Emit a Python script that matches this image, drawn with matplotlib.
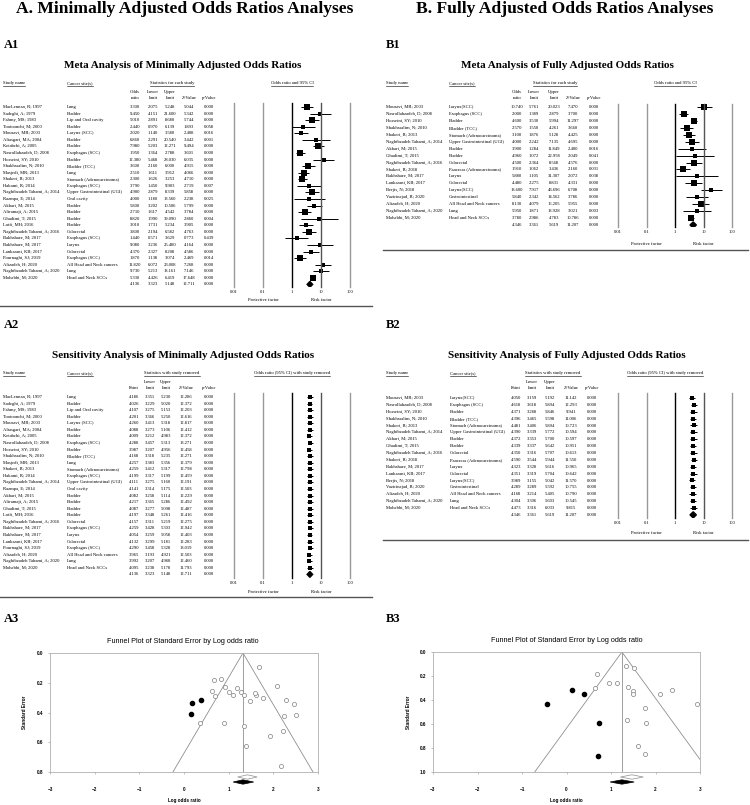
import numpy as np
import matplotlib
matplotlib.use('Agg')
import matplotlib.pyplot as plt
import matplotlib.transforms as mtransforms
from matplotlib.patches import Polygon
from matplotlib.lines import Line2D

W, H = 750, 805
SERIF = ['Liberation Serif', 'DejaVu Serif']
SANS = ['Liberation Sans', 'DejaVu Sans']

# ---------------- A1: minimally adjusted odds ratios ----------------
a_names = ["MacLennan, R; 1997", "Sadeghi, A; 1979", "Fahmy, MS; 1983", "Tootoonchi, M; 2000",
           "Mousavi, MR; 2003", "Aliasgari, MA; 2004", "Ketabchi, A; 2005", "Nasrollahzadeh, D; 2008",
           "Hosseini, SY; 2010", "Shakhssalim, N; 2010", "Masjedi, MR; 2013", "Shakeri, R; 2013",
           "Hakami, R; 2014", "Naghibzadeh Tahami, A; 2014", "Razmpa, E; 2014", "Akbari, M; 2015",
           "Aliramaji, A; 2015", "Ghadimi, T; 2015", "Lotfi, MH; 2016", "Naghibzadeh Tahami, A; 2016",
           "Bakhshaee, M; 2017", "Bakhshaee, M; 2017", "Lankarani, KB; 2017", "Pournaghi, SJ; 2019",
           "Alizadeh, H; 2020", "Naghibzadeh Tahami, A; 2020", "Mohebbi, M; 2020"]
a_sites = ["Lung", "Bladder", "Lip and Oral cavity", "Bladder", "Larynx (SCC)", "Bladder", "Bladder",
           "Esophagus (SCC)", "Bladder", "Bladder (TCC)", "Lung", "Stomach (Adenocarcinoma)",
           "Esophagus (SCC)", "Upper Gastrointestinal (UGI)", "Oral cavity", "Bladder", "Bladder",
           "Bladder", "Bladder", "Colorectal", "Esophagus (SCC)", "Larynx", "Colorectal",
           "Esophagus (SCC)", "All Head and Neck cancers", "Lung", "Head and Neck SCCs"]
a_or = [3.300, 9.450, 5.010, 2.440, 2.020, 6.860, 7.980, 1.950, 12.380, 3.600, 2.510, 2.300, 3.790,
        4.900, 4.000, 5.800, 2.710, 8.820, 3.010, 3.800, 1.440, 9.080, 4.370, 1.870, 11.820, 9.730, 5.330]
a_lo = [2.075, 4.151, 2.891, 0.970, 1.140, 2.291, 5.203, 1.364, 5.468, 2.160, 1.611, 1.626, 1.450,
        2.879, 1.180, 3.202, 1.617, 1.990, 1.731, 2.194, 0.571, 3.236, 2.327, 1.138, 6.072, 5.213, 4.426]
a_hi = [5.248, 21.600, 8.680, 6.139, 3.580, 20.540, 12.271, 2.788, 28.030, 6.000, 3.912, 3.253, 9.903,
        8.339, 13.560, 10.506, 4.542, 39.090, 5.234, 6.582, 3.629, 25.480, 8.208, 3.074, 23.008, 18.161, 6.419]
a_z = [5.044, 5.342, 5.744, 1.893, 2.408, 3.442, 9.494, 3.601, 6.035, 4.915, 4.066, 4.710, 2.719,
       5.858, 2.238, 5.799, 3.784, 2.860, 3.905, 4.763, 0.773, 4.164, 4.586, 2.469, 7.268, 7.146, 17.648]
a_p = [0.000, 0.000, 0.000, 0.058, 0.016, 0.001, 0.000, 0.000, 0.000, 0.000, 0.000, 0.000, 0.007,
       0.000, 0.025, 0.000, 0.000, 0.004, 0.000, 0.000, 0.439, 0.000, 0.000, 0.014, 0.000, 0.000, 0.000]
a_sum = [4.136, 3.323, 5.148, 12.711, 0.000]

# ---------------- A2: sensitivity (one study removed) ----------------
a2_pt = [4.186, 4.026, 4.107, 4.201, 4.260, 4.088, 4.009, 4.288, 3.987, 4.168, 4.257, 4.259, 4.199,
         4.111, 4.141, 4.082, 4.217, 4.087, 4.197, 4.157, 4.259, 4.054, 4.132, 4.290, 3.965, 3.992, 4.095]
a2_lo = [3.351, 3.229, 3.275, 3.366, 3.413, 3.273, 3.212, 3.457, 3.207, 3.318, 3.383, 3.412, 3.317,
         3.275, 3.314, 3.258, 3.365, 3.277, 3.348, 3.311, 3.428, 3.259, 3.299, 3.458, 3.193, 3.207, 3.238]
a2_hi = [5.230, 5.020, 5.153, 5.250, 5.318, 5.106, 4.983, 5.313, 4.956, 5.235, 5.356, 5.317, 5.199,
         5.160, 5.175, 5.114, 5.286, 5.098, 5.261, 5.219, 5.303, 5.058, 5.181, 5.328, 4.921, 4.968, 5.178]
a2_z = [12.286, 12.372, 12.203, 12.616, 12.817, 12.412, 12.372, 13.271, 12.458, 12.271, 12.379, 12.798,
        12.459, 12.191, 12.503, 12.229, 12.492, 12.487, 12.416, 12.275, 12.942, 12.403, 12.283, 13.019,
        12.503, 12.460, 11.793]
a2_p = [0.000] * 27

# ---------------- B1: fully adjusted odds ratios ----------------
b_names = ["Mousavi, MR; 2003", "Nasrollahzadeh, D; 2008", "Hosseini, SY; 2010", "Shakhssalim, N; 2010",
           "Shakeri, R; 2013", "Naghibzadeh Tahami, A; 2014", "Akbari, M; 2015", "Ghadimi, T; 2015",
           "Naghibzadeh Tahami, A; 2016", "Shakeri, R; 2018", "Bakhshaee, M; 2017", "Lankarani, KB; 2017",
           "Berjis, N; 2018", "Vazirinejad, R; 2020", "Alizadeh, H; 2020", "Naghibzadeh Tahami, A; 2020",
           "Mohebbi, M; 2020"]
b_sites = ["Larynx(SCC)", "Esophagus (SCC)", "Bladder", "Bladder (TCC)", "Stomach (Adenocarcinoma)",
           "Upper Gastrointestinal (UGI)", "Bladder", "Bladder", "Colorectal", "Pancreas (Adenocarcinoma)",
           "Larynx", "Colorectal", "Larynx(SCC)", "Gastrointestinal", "All Head and Neck cancers", "Lung",
           "Head and Neck SCCs"]
b_or = [10.740, 2.000, 4.600, 2.570, 3.100, 4.000, 3.900, 4.960, 4.500, 1.910, 5.880, 4.480, 18.600,
        5.840, 8.130, 5.950, 3.780]
b_lo = [5.761, 1.389, 3.530, 1.550, 1.876, 2.242, 1.284, 1.072, 2.364, 1.062, 1.105, 2.275, 7.917,
        2.342, 4.079, 1.871, 2.986]
b_hi = [20.023, 2.879, 5.994, 4.261, 5.128, 7.135, 11.849, 22.958, 8.568, 3.436, 31.307, 8.831, 43.696,
        14.562, 16.205, 18.928, 4.783]
b_z = [7.470, 3.700, 11.297, 3.660, 4.425, 4.695, 2.400, 2.049, 4.576, 2.160, 2.072, 4.331, 6.708,
       3.786, 5.955, 3.021, 10.786]
b_p = [0.000, 0.000, 0.000, 0.000, 0.000, 0.000, 0.016, 0.041, 0.000, 0.031, 0.038, 0.000, 0.000,
       0.000, 0.000, 0.003, 0.000]
b_sum = [4.346, 3.361, 5.619, 11.207, 0.000]

# ---------------- B2: sensitivity (one study removed) ----------------
b2_pt = [4.050, 4.618, 4.371, 4.396, 4.481, 4.390, 4.372, 4.339, 4.350, 4.590, 4.323, 4.351, 3.989,
         4.289, 4.168, 4.304, 4.473]
b2_lo = [3.159, 3.618, 3.268, 3.465, 3.406, 3.339, 3.353, 3.337, 3.316, 3.544, 3.328, 3.319, 3.155,
         3.289, 3.214, 3.306, 3.316]
b2_hi = [5.192, 5.894, 5.846, 5.598, 5.894, 5.772, 5.700, 5.642, 5.707, 5.944, 5.616, 5.704, 5.042,
         5.592, 5.405, 5.603, 6.033]
b2_z = [11.142, 12.293, 9.941, 11.006, 10.723, 10.594, 10.597, 10.951, 10.613, 11.550, 10.965, 10.642,
        11.570, 10.755, 10.790, 10.545, 9.815]
b2_p = [0.000] * 17

# ---------------- funnel plots: imputed (trim and fill) studies ----------------
a_imp_x = [0.19, 0.38, 0.15]
a_imp_se = [0.337, 0.315, 0.411]
a_mid = 1.32
a_adj = [1.32, 1.10, 1.56]
b_imp_x = [0.13, 0.40, -0.435, 0.72, 0.705]
b_imp_se = [0.317, 0.350, 0.433, 0.589, 0.867]
b_mid = 1.245
b_adj = [1.245, 0.98, 1.52]

fig = plt.figure(figsize=(W / 100, H / 100), dpi=100)
# pixel coords measured from top-left
px = mtransforms.Affine2D().scale(1 / W, -1 / H).translate(0, 1) + fig.transFigure


def ptext(x, y, s, **kw):
    kw.setdefault('family', SERIF)
    return fig.text(x, y, s, transform=px, **kw)


def rect(l, t, r, b):
    return [l / W, 1 - b / H, (r - l) / W, (b - t) / H]


underline = []


def forest(sp, names, sites, est, lo, hi, z, p, summ, sens=False, tau2=0.1, big=1.4):
    n = len(est)
    fs = 3.3
    ptext(sp['title_x'], sp['title_y'], sp['title'], fontsize=8, fontweight='bold',
          ha='center', va='center')
    for x, s, ha in [(sp['name_x'], 'Study name', 'left'), (sp['site_x'], 'Cancer site(s)', 'left'),
                     (sp['stat_x'], sp['stat_head'], 'center'), (sp['fh_x'], sp['forest_head'], 'center')]:
        underline.append(ptext(x, sp['head_y'], s, fontsize=fs, ha=ha, va='center'))
    if sens:
        sub1 = ['', 'Lower', 'Upper', '', '']
        sub2 = ['Point', 'limit', 'limit', 'Z-Value', 'p-Value']
    else:
        sub1 = ['Odds', 'Lower', 'Upper', '', '']
        sub2 = ['ratio', 'limit', 'limit', 'Z-Value', 'p-Value']
    for cx, s1, s2 in zip(sp['cols'], sub1, sub2):
        ptext(cx, sp['sub_y1'], s1, fontsize=fs, ha='center', va='center')
        ptext(cx, sp['sub_y2'], s2, fontsize=fs, ha='center', va='center')

    # forest axes: 0.01..100 on a log axis, a small margin so the edge lines are not cut
    dec = (sp['fr'] - sp['fl']) / 4.0
    ax = fig.add_axes(rect(sp['fl'] - 0.1 * dec, sp['ft'], sp['fr'] + 0.1 * dec, sp['fb']))
    ax.set_xscale('log')
    y_bot = (sp['fb'] - sp['row0']) / sp['dy']
    y_top = (sp['ft'] - sp['row0']) / sp['dy']
    ax.set_xlim(10 ** -2.1, 10 ** 2.1)
    ax.set_ylim(y_bot, y_top)
    for s in ax.spines.values():
        s.set_visible(False)
    ax.set_xticks([])
    ax.set_yticks([])
    ax.minorticks_off()
    ticks = [0.01, 0.1, 1, 10, 100]

    tf = mtransforms.blended_transform_factory(px, ax.transData)
    ftf = mtransforms.blended_transform_factory(ax.transData, px)
    for v, s, c in zip(ticks, ['0.01', '0.1', '1', '10', '100'],
                       ['#999999', '#999999', 'black', '#555555', '#999999']):
        fig.text(v, sp['fb'] + 5, s, transform=ftf, fontsize=fs, family=SERIF, ha='center', va='center')
        fig.add_artist(Line2D([v, v], [sp['ft'], sp['fb']], transform=ftf, color=c, lw=1.0))

    rows = np.arange(n)
    for i in rows:
        fig.text(sp['name_x'], i, names[i], transform=tf, fontsize=fs, family=SERIF, va='center')
        fig.text(sp['site_x'], i, sites[i], transform=tf, fontsize=fs, family=SERIF, va='center')
        for cx, v in zip(sp['cols'], [est[i], lo[i], hi[i], z[i], p[i]]):
            fig.text(cx, i, '%.3f' % v, transform=tf, fontsize=fs, family=SERIF, ha='center', va='center')
    for cx, v in zip(sp['cols'], summ):
        fig.text(cx, n, '%.3f' % v, transform=tf, fontsize=fs, family=SERIF, ha='center', va='center')

    est = np.array(est)
    lo = np.array(lo)
    hi = np.array(hi)
    se = (np.log(hi) - np.log(lo)) / 3.92
    w = 1 / (se ** 2 + tau2)
    ms = 2.6 + big * np.sqrt(w / w.max())
    if sens:
        ms = np.full(n, 3.5)
    ax.hlines(rows, np.clip(lo, 0.01, 100), np.clip(hi, 0.01, 100), color='black', lw=0.7, zorder=2)
    for i in rows:
        ax.plot(est[i], i, 's', color='black', ms=ms[i], mew=0, zorder=3)
    d = Polygon([(summ[1], n), (summ[0], n - 0.45), (summ[2], n), (summ[0], n + 0.45)],
                closed=True, color='black', zorder=3)
    ax.add_patch(d)

    fig.text(0.1, sp['factor_y'], 'Protective factor', transform=ftf, fontsize=fs, family=SERIF,
             ha='center', va='center')
    fig.text(10, sp['factor_y'], 'Risk factor', transform=ftf, fontsize=fs, family=SERIF,
             ha='center', va='center')
    fig.add_artist(Line2D([sp['sep_x0'] / W, sp['sep_x1'] / W], [1 - sp['sep_y'] / H] * 2,
                          color='#555555', lw=1.0))


def funnel(l, t, r, b, est, lo, hi, summ, imp_x, imp_se, mid, adj, ymax, title_x):
    ax = fig.add_axes(rect(l, t, r, b))
    lx = np.log(est)
    se = (np.log(hi) - np.log(lo)) / 3.92
    ax.plot([mid - 1.96 * ymax, mid, mid + 1.96 * ymax], [ymax, 0, ymax], color='#8f8f8f', lw=0.6)
    ax.plot([mid, mid], [0, ymax], color='#8f8f8f', lw=0.6)
    ax.plot(lx, se, 'o', mfc='white', mec='#808080', mew=0.5, ms=3.0)
    ax.plot(imp_x, imp_se, 'o', color='black', ms=3.0)
    per_px = ymax / (b - t)
    ls = np.log(summ[:3])
    for (c, x0, x1), yc, fc, ec in [((ls[0], ls[1], ls[2]), ymax + 5 * per_px, 'white', '#8f8f8f'),
                                     ((adj[0], adj[1], adj[2]), ymax + 10 * per_px, 'black', 'black')]:
        hh = 2.2 * per_px
        ax.add_patch(Polygon([(x0, yc), (c, yc - hh), (x1, yc), (c, yc + hh)], closed=True,
                             fc=fc, ec=ec, lw=0.5, clip_on=False))
    ax.set_xlim(-3, 3)
    ax.set_ylim(ymax, 0)
    ax.set_xticks(range(-3, 4))
    ax.set_yticks(np.arange(0, ymax + 0.01, 0.2))
    ax.set_yticklabels(['%.1f' % v for v in np.arange(0, ymax + 0.01, 0.2)])
    ax.tick_params(labelsize=3.3, length=1.5, width=0.4, color='#8f8f8f')
    ax.tick_params(axis='x', pad=9)
    for lab in ax.get_xticklabels() + ax.get_yticklabels():
        lab.set_family(SANS)
        lab.set_fontweight('bold')
    for s in ax.spines.values():
        s.set_color('#b0b0b0')
        s.set_linewidth(0.6)
    ptext(title_x, t - 12, 'Funnel Plot of Standard Error by Log odds ratio', fontsize=5.2,
          family=SANS, ha='center', va='center')
    ptext(l - 25, (t + b) / 2, 'Standard Error', fontsize=3.3, family=SANS, fontweight='bold',
          rotation=90, ha='center', va='center')
    ptext((l + r) / 2, b + 28, 'Log odds ratio', fontsize=3.3, family=SANS, fontweight='bold',
          ha='center', va='center')


# main headings and panel labels
ptext(185, 9, 'A. Minimally Adjusted Odds Ratios Analyses', fontsize=12.6, fontweight='bold',
      ha='center', va='center')
ptext(565, 9, 'B. Fully Adjusted Odds Ratios Analyses', fontsize=12.6, fontweight='bold',
      ha='center', va='center')
for x, y, s in [(4, 45, 'A1'), (386, 45, 'B1'), (4, 325, 'A2'), (386, 325, 'B2'),
                (4, 619, 'A3'), (386, 619, 'B3')]:
    ptext(x, y, s, fontsize=9, fontweight='bold', va='center')

a1 = dict(title='Meta Analysis of Minimally Adjusted Odds Ratios', title_x=183, title_y=65,
          name_x=3, site_x=67, cols=[135, 153, 170, 189, 209], stat_head='Statistics for each study',
          stat_x=172, forest_head='Odds ratio and 95% CI', fh_x=292, head_y=83, sub_y1=92, sub_y2=98,
          fl=234, fr=350, ft=103, fb=287, row0=107, dy=6.57, factor_y=300, sep_y=306, sep_x0=0, sep_x1=372)
b1 = dict(title='Meta Analysis of Fully Adjusted Odds Ratios', title_x=567, title_y=65,
          name_x=386, site_x=449, cols=[517, 534, 554, 573, 594], stat_head='Statistics for each study',
          stat_x=555, forest_head='Odds ratio and 95% CI', fh_x=675, head_y=83, sub_y1=92, sub_y2=98,
          fl=618, fr=732, ft=104, fb=227, row0=107, dy=6.94, factor_y=244, sep_y=250, sep_x0=383, sep_x1=748)
a2 = dict(title='Sensitivity Analysis of Minimally Adjusted Odds Ratios', title_x=183, title_y=355,
          name_x=3, site_x=67, cols=[134, 150, 166, 186, 209], stat_head='Statistics with study removed',
          stat_x=172, forest_head='Odds ratio (95% CI) with study removed', fh_x=292, head_y=373,
          sub_y1=382, sub_y2=388, fl=234, fr=350, ft=393, fb=578, row0=397, dy=6.57, factor_y=592,
          sep_y=597, sep_x0=0, sep_x1=372)
b2 = dict(title='Sensitivity Analysis of Fully Adjusted Odds Ratios', title_x=567, title_y=355,
          name_x=386, site_x=450, cols=[516, 532, 550, 571, 592], stat_head='Statistics with study removed',
          stat_x=553, forest_head='Odds ratio (95% CI) with study removed', fh_x=665, head_y=373,
          sub_y1=382, sub_y2=388, fl=618, fr=732, ft=393, fb=518, row0=398, dy=6.875, factor_y=533,
          sep_y=540, sep_x0=383, sep_x1=748)

forest(a1, a_names, a_sites, a_or, a_lo, a_hi, a_z, a_p, a_sum, tau2=0.15, big=1.2)
forest(b1, b_names, b_sites, b_or, b_lo, b_hi, b_z, b_p, b_sum, tau2=0.03, big=2.2)
forest(a2, a_names, a_sites, a2_pt, a2_lo, a2_hi, a2_z, a2_p, a_sum, sens=True)
forest(b2, b_names, b_sites, b2_pt, b2_lo, b2_hi, b2_z, b2_p, b_sum, sens=True)

funnel(50, 653, 318, 772, a_or, a_lo, a_hi, a_sum, a_imp_x, a_imp_se, a_mid, a_adj, 0.8, 183)
funnel(433, 652, 700, 772, b_or, b_lo, b_hi, b_sum, b_imp_x, b_imp_se, b_mid, b_adj, 1.0, 567)

# underline the column headers of the forest tables
fig.canvas.draw()
for t in underline:
    bb = t.get_window_extent()
    fig.add_artist(Line2D([bb.x0 / W, bb.x1 / W], [(bb.y0 - 0.6) / H] * 2, color='black', lw=0.4))

fig.savefig('out.png', dpi=100)
